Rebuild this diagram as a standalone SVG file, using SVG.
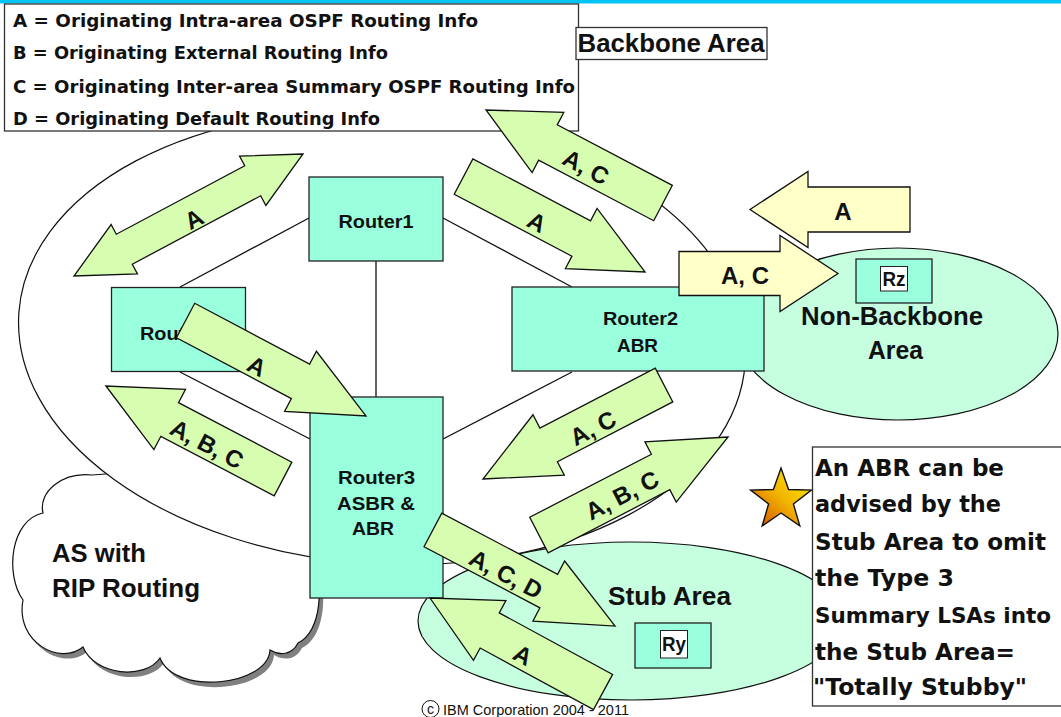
<svg xmlns="http://www.w3.org/2000/svg" width="1061" height="717" viewBox="0 0 1061 717">
  <defs>
    <style>
      .router { fill: #99FFDC; stroke: #222; stroke-width: 1.3; }
      .area { fill: #C6FFE0; stroke: #111; stroke-width: 1.2; }
      .link { stroke: #111; stroke-width: 1.3; fill: none; }
      .flow { fill: #D6FDB0; stroke: #111; stroke-width: 1.3; stroke-linejoin: miter; }
      .flow-y { fill: #FFFFC8; stroke: #111; stroke-width: 1.3; }
      .rt { font-family: "Liberation Sans", Arial, sans-serif; font-weight: bold; font-size: 19px; fill: #111; text-anchor: middle; }
      .rt-s { font-family: "Liberation Sans", Arial, sans-serif; font-weight: bold; font-size: 19px; fill: #111; text-anchor: start; }
      .tag { font-family: "Liberation Sans", Arial, sans-serif; font-weight: bold; font-size: 20px; fill: #111; text-anchor: middle; }
      .lbl { font-family: "Liberation Sans", Arial, sans-serif; font-weight: bold; font-size: 24px; fill: #111; text-anchor: middle; }
      .big { font-family: "Liberation Sans", Arial, sans-serif; font-weight: bold; font-size: 25px; fill: #111; }
      .big-m { font-family: "Liberation Sans", Arial, sans-serif; font-weight: bold; font-size: 25px; fill: #111; text-anchor: middle; }
      .lg { font-family: "DejaVu Sans", sans-serif; font-weight: bold; font-size: 17px; fill: #111; }
      .note { font-family: "DejaVu Sans", sans-serif; font-weight: bold; font-size: 23px; fill: #111; }
      .note-s { font-family: "DejaVu Sans", sans-serif; font-weight: bold; font-size: 21px; fill: #111; }
      .box { fill: #fff; stroke: #333; stroke-width: 1.3; }
    </style>
    <linearGradient id="starFill" x1="1" y1="0" x2="0" y2="1">
      <stop offset="0" stop-color="#FFF200"/>
      <stop offset="0.5" stop-color="#F2B400"/>
      <stop offset="1" stop-color="#D04800"/>
    </linearGradient>
  </defs>

  <!-- title strip -->
  <rect x="0" y="0" width="1061" height="3.5" fill="#00C4F4"/>

  <!-- external AS cloud with drop shadow -->
  <g id="cloud">
    <path transform="translate(4,5)" fill="#808080" d="M43,513 C38,492 62,472 92,475 L160,470 L318,540 L312,562 C324,582 322,632 298,643 C292,655 280,656 270,650 C268,686 175,696 160,658 C145,680 95,676 83,647 C60,666 15,642 23,600 C5,575 10,520 43,513 Z"/>
    <path fill="#fff" stroke="#111" stroke-width="1.2" d="M43,513 C38,492 62,472 92,475 L160,470 L318,540 L312,562 C324,582 322,632 298,643 C292,655 280,656 270,650 C268,686 175,696 160,658 C145,680 95,676 83,647 C60,666 15,642 23,600 C5,575 10,520 43,513 Z"/>
    <text class="big" x="52" y="562" textLength="94" lengthAdjust="spacingAndGlyphs">AS with</text>
    <text class="big" x="52" y="597" textLength="148" lengthAdjust="spacingAndGlyphs">RIP Routing</text>
  </g>

  <!-- OSPF backbone area -->
  <g id="backbone-area">
    <ellipse cx="382" cy="338" rx="364" ry="226" transform="rotate(4 382 338)" fill="#fff" stroke="#111" stroke-width="1.2"/>
  </g>

  <!-- non-backbone area -->
  <g id="non-backbone-area">
    <ellipse class="area" cx="898" cy="334" rx="160" ry="86"/>
    <rect class="router" x="856" y="259" width="76" height="44"/>
    <rect x="880.5" y="266.5" width="27" height="24.5" fill="#fff" stroke="#222" stroke-width="1"/>
    <text class="tag" x="894" y="286" textLength="23" lengthAdjust="spacingAndGlyphs">Rz</text>
    <text class="big-m" x="892" y="325" textLength="182" lengthAdjust="spacingAndGlyphs">Non-Backbone</text>
    <text class="big-m" x="895.5" y="359" textLength="55" lengthAdjust="spacingAndGlyphs">Area</text>
  </g>

  <!-- stub area -->
  <g id="stub-area">
    <ellipse class="area" cx="631" cy="621" rx="213" ry="79"/>
    <rect class="router" x="635" y="623" width="76" height="45"/>
    <rect x="660.5" y="630.5" width="27" height="27.5" fill="#fff" stroke="#222" stroke-width="1"/>
    <text class="tag" x="674" y="651" textLength="24" lengthAdjust="spacingAndGlyphs">Ry</text>
    <text class="big" x="608" y="605" textLength="123" lengthAdjust="spacingAndGlyphs">Stub Area</text>
  </g>

  <!-- router links -->
  <g id="connectors">
    <line class="link" x1="309" y1="218" x2="180" y2="287"/>
    <line class="link" x1="443" y1="218" x2="572" y2="287"/>
    <line class="link" x1="376" y1="261" x2="376" y2="397"/>
    <line class="link" x1="180" y1="372" x2="310" y2="439"/>
    <line class="link" x1="572" y1="372" x2="443" y2="439"/>
  </g>

  <!-- routers -->
  <g id="router1">
    <rect class="router" x="309" y="177" width="134" height="84"/>
    <text class="rt" x="376" y="228" textLength="75" lengthAdjust="spacingAndGlyphs">Router1</text>
  </g>
  <g id="router4">
    <rect class="router" x="111.5" y="287.5" width="134" height="84"/>
    <text class="rt-s" x="140" y="340" textLength="75" lengthAdjust="spacingAndGlyphs">Router4</text>
  </g>
  <g id="router2">
    <rect class="router" x="512" y="287" width="252" height="84"/>
    <text class="rt" x="640.5" y="325" textLength="75" lengthAdjust="spacingAndGlyphs">Router2</text>
    <text class="rt" x="637.5" y="352" textLength="41" lengthAdjust="spacingAndGlyphs">ABR</text>
  </g>
  <g id="router3">
    <rect class="router" x="310" y="397" width="133" height="201"/>
    <text class="rt" x="376.5" y="484" textLength="77" lengthAdjust="spacingAndGlyphs">Router3</text>
    <text class="rt" x="376" y="510" textLength="78" lengthAdjust="spacingAndGlyphs">ASBR &amp;</text>
    <text class="rt" x="373" y="535" textLength="42" lengthAdjust="spacingAndGlyphs">ABR</text>
  </g>

  <!-- legend -->
  <g id="legend">
    <rect class="box" x="4.5" y="4" width="574" height="127"/>
    <text class="lg" x="13" y="27" textLength="465" lengthAdjust="spacingAndGlyphs">A = Originating Intra-area OSPF Routing Info</text>
    <text class="lg" x="13" y="59" textLength="375" lengthAdjust="spacingAndGlyphs">B = Originating External Routing Info</text>
    <text class="lg" x="13" y="93" textLength="562" lengthAdjust="spacingAndGlyphs">C = Originating Inter-area Summary OSPF Routing Info</text>
    <text class="lg" x="13" y="125" textLength="367" lengthAdjust="spacingAndGlyphs">D = Originating Default Routing Info</text>
  </g>

  <g id="backbone-label">
    <rect class="box" x="576" y="27.5" width="191" height="32"/>
    <text class="big" x="577.5" y="51.5" textLength="187" lengthAdjust="spacingAndGlyphs">Backbone Area</text>
  </g>

  <!-- routing information flows -->
  <g id="flows">
    <g id="flow-a-r1-r4">
      <polygon class="flow" transform="translate(188.5,215) rotate(-28.05)" points="129.75,0 72.75,-28 72.75,-17 -72.75,-17 -72.75,-28 -129.75,0 -72.75,28 -72.75,17 72.75,17 72.75,28"/>
      <text class="lbl" transform="translate(194,219) rotate(-28.05)" y="8.5">A</text>
    </g>
    <g id="flow-ac-out">
      <polygon class="flow" transform="translate(574.5,156.5) rotate(-152.28)" points="100,0 30,-34 30,-20 -100,-20 -100,20 30,20 30,34"/>
      <text class="lbl" transform="translate(586,167) rotate(27.72)" y="8.5">A, C</text>
    </g>
    <g id="flow-a-r1-r2">
      <polygon class="flow" transform="translate(554.25,224.25) rotate(27.75)" points="102.5,0 30.5,-34 30.5,-20 -102.5,-20 -102.5,20 30.5,20 30.5,34"/>
      <text class="lbl" transform="translate(537,222) rotate(27.75)" y="8.5">A</text>
    </g>
    <g id="flow-a-r4-r3">
      <polygon class="flow" transform="translate(275.75,368.25) rotate(27.9)" points="102,0 28,-34 28,-19.5 -102,-19.5 -102,19.5 28,19.5 28,34"/>
      <text class="lbl" transform="translate(257,366) rotate(27.9)" y="8.5">A</text>
    </g>
    <g id="flow-abc-r3-out">
      <polygon class="flow" transform="translate(194.5,432.5) rotate(-152.3)" points="100,0 28,-34 28,-19 -100,-19 -100,19 28,19 28,34"/>
      <text class="lbl" transform="translate(207,444) rotate(27.7)" y="8.5">A, B, C</text>
    </g>
    <g id="flow-ac-r2-r3">
      <polygon class="flow" transform="translate(573.5,432) rotate(152.56)" points="102,0 28,-34 28,-19 -102,-19 -102,19 28,19 28,34"/>
      <text class="lbl" transform="translate(593,428) rotate(-27.44)" y="8.5">A, C</text>
    </g>
    <g id="flow-abc-stub-r2">
      <polygon class="flow" transform="translate(633.5,486) rotate(-27.4)" points="106.5,0 30.5,-34 30.5,-20 -106.5,-20 -106.5,20 30.5,20 30.5,34"/>
      <text class="lbl" transform="translate(622,495) rotate(-27.4)" y="8.5">A, B, C</text>
    </g>
    <g id="flow-acd-r3-stub">
      <polygon class="flow" transform="translate(524,578) rotate(27.8)" points="103,0 28,-34 28,-19 -103,-19 -103,19 28,19 28,34"/>
      <text class="lbl" transform="translate(506,574) rotate(27.8)" y="8.5">A, C, D</text>
    </g>
    <g id="flow-a-stub-r3">
      <polygon class="flow" transform="translate(516.5,645) rotate(-151.5)" points="98.5,0 30.5,-34 30.5,-20 -98.5,-20 -98.5,20 30.5,20 30.5,34"/>
      <text class="lbl" transform="translate(523,655) rotate(28.5)" y="8.5">A</text>
    </g>
    <g id="flow-a-nonbackbone">
      <polygon class="flow-y" points="750,209.5 808,171.5 808,187 910,187 910,232 808,232 808,247.5"/>
      <text class="lbl" x="843" y="220">A</text>
    </g>
    <g id="flow-ac-nonbackbone">
      <polygon class="flow-y" points="679,251.5 780,251.5 780,235.5 838,273.5 780,311.5 780,295.5 679,295.5"/>
      <text class="lbl" x="745" y="284">A, C</text>
    </g>
  </g>

  <!-- totally stubby note -->
  <g id="note">
    <rect class="box" x="812.5" y="447" width="260" height="259"/>
    <text class="note" x="815" y="476" textLength="189" lengthAdjust="spacingAndGlyphs">An ABR can be</text>
    <text class="note" x="815" y="512" textLength="186" lengthAdjust="spacingAndGlyphs">advised by the</text>
    <text class="note" x="815" y="550" textLength="231" lengthAdjust="spacingAndGlyphs">Stub Area to omit</text>
    <text class="note" x="815" y="586" textLength="139" lengthAdjust="spacingAndGlyphs">the Type 3</text>
    <text class="note-s" x="815" y="623" textLength="236" lengthAdjust="spacingAndGlyphs">Summary LSAs into</text>
    <text class="note" x="815" y="660" textLength="200" lengthAdjust="spacingAndGlyphs">the Stub Area=</text>
    <text class="note" x="813" y="695" textLength="214" lengthAdjust="spacingAndGlyphs">"Totally Stubby"</text>
  </g>

  <g id="star">
    <polygon fill="url(#starFill)" stroke="#111" stroke-width="1.4" points="781,468 788.6,489.5 811.4,490.1 793.4,504 799.8,525.9 781,513 762.2,525.9 768.6,504 750.6,490.1 773.4,489.5"/>
  </g>

  <!-- copyright -->
  <g id="copyright">
    <circle cx="430.5" cy="709" r="8.5" fill="none" stroke="#111" stroke-width="1"/>
    <text x="430.5" y="714" text-anchor="middle" font-family="Liberation Sans, Arial, sans-serif" font-size="14" fill="#111">c</text>
    <text x="443" y="715" font-family="Liberation Sans, Arial, sans-serif" font-size="15" fill="#111" textLength="186" lengthAdjust="spacingAndGlyphs">IBM Corporation 2004 - 2011</text>
  </g>
</svg>
